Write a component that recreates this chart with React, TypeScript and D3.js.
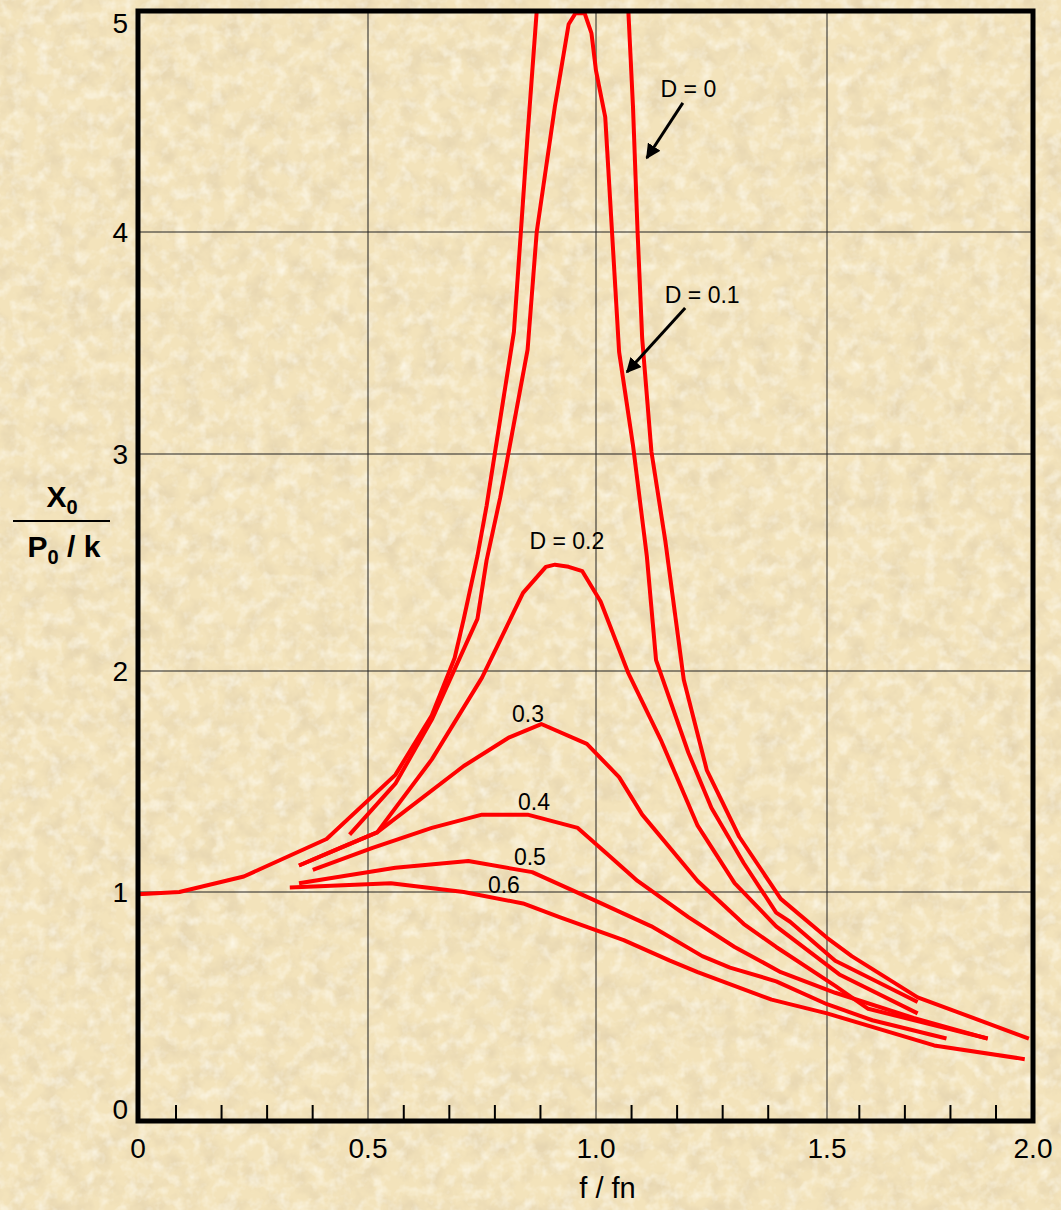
import React from "react";
import * as d3 from "d3";

// frequency ratio f/fn on x, amplitude ratio X0/(P0/k) on y
type Pt = [number, number | null];

const xTicks = [0, 0.5, 1.0, 1.5, 2.0];
const xTickLabels = ["0", "0.5", "1.0", "1.5", "2.0"];
const yTicks = [0, 1, 2, 3, 4, 5];
const minorTicks = [0.1, 0.2, 0.3, 0.4, 0.6, 0.7, 0.8, 0.9, 1.1, 1.2, 1.3, 1.4, 1.6, 1.7, 1.8, 1.9];

// D = 0 goes off the top (resonance), null marks the break
const curveD0: Pt[] = [
  [0, 0.99], [0.09, 1.0], [0.23, 1.07], [0.41, 1.24], [0.56, 1.53], [0.64, 1.8],
  [0.69, 2.06], [0.71, 2.24], [0.74, 2.53], [0.76, 2.76], [0.82, 3.55], [0.85, 4.44],
  [0.87, 5.0], [0.97, null], [1.07, 5.0], [1.08, 4.57], [1.09, 4.0], [1.1, 3.52],
  [1.12, 3.01], [1.15, 2.6], [1.19, 1.96], [1.24, 1.55], [1.31, 1.25], [1.4, 0.97],
  [1.5, 0.8], [1.56, 0.72], [1.72, 0.54], [1.99, 0.36],
];
const curveD01: Pt[] = [
  [0.46, 1.26], [0.56, 1.49], [0.64, 1.78], [0.74, 2.24], [0.76, 2.51], [0.79, 2.8],
  [0.85, 3.47], [0.87, 4.0], [0.91, 4.57], [0.94, 4.94], [0.955, 4.99], [0.975, 4.99],
  [0.99, 4.9], [1.0, 4.73], [1.02, 4.52], [1.05, 3.46], [1.08, 3.04], [1.11, 2.53],
  [1.13, 2.05], [1.2, 1.63], [1.25, 1.38], [1.32, 1.13], [1.39, 0.91], [1.42, 0.87],
  [1.52, 0.7], [1.72, 0.52],
];
const curveD02: Pt[] = [
  [0.35, 1.12], [0.44, 1.2], [0.52, 1.27], [0.64, 1.6], [0.75, 1.97], [0.84, 2.36],
  [0.89, 2.48], [0.91, 2.49], [0.94, 2.48], [0.97, 2.46], [1.01, 2.32], [1.07, 1.99],
  [1.14, 1.69], [1.22, 1.3], [1.3, 1.04], [1.39, 0.85], [1.53, 0.64], [1.72, 0.47],
];
const curveD03: Pt[] = [
  [0.35, 1.12], [0.44, 1.2], [0.52, 1.27], [0.71, 1.57], [0.81, 1.7], [0.88, 1.76],
  [0.98, 1.67], [1.05, 1.52], [1.1, 1.35], [1.22, 1.05], [1.32, 0.86], [1.39, 0.76],
  [1.52, 0.59], [1.6, 0.49], [1.89, 0.36],
];
const curveD04: Pt[] = [
  [0.38, 1.1], [0.51, 1.2], [0.64, 1.29], [0.75, 1.35], [0.85, 1.35], [0.96, 1.29],
  [1.02, 1.18], [1.09, 1.05], [1.2, 0.89], [1.3, 0.76], [1.4, 0.65], [1.52, 0.56],
  [1.71, 0.45], [1.89, 0.36],
];
const curveD05: Pt[] = [
  [0.35, 1.04], [0.56, 1.11], [0.72, 1.14], [0.86, 1.09], [0.99, 0.97], [1.12, 0.85],
  [1.23, 0.72], [1.29, 0.67], [1.39, 0.61], [1.5, 0.51], [1.61, 0.44], [1.79, 0.36],
];
const curveD06: Pt[] = [
  [0.33, 1.02], [0.55, 1.04], [0.71, 1.0], [0.84, 0.95], [0.92, 0.89], [1.06, 0.79],
  [1.16, 0.7], [1.22, 0.65], [1.38, 0.53], [1.5, 0.47], [1.76, 0.33], [1.98, 0.27],
];

const curves = [curveD0, curveD01, curveD02, curveD03, curveD04, curveD05, curveD06];

const curveLabels = [
  { text: "D = 0", x: 1.2, y: 4.61 },
  { text: "D = 0.1", x: 1.23, y: 3.68 },
  { text: "D = 0.2", x: 0.936, y: 2.56 },
  { text: "0.3", x: 0.851, y: 1.77 },
  { text: "0.4", x: 0.864, y: 1.37 },
  { text: "0.5", x: 0.855, y: 1.12 },
  { text: "0.6", x: 0.798, y: 0.996 },
];

const arrows = [
  { from: [1.188, 4.584], to: [1.11, 4.335] },
  { from: [1.193, 3.658], to: [1.067, 3.369] },
];

const W = 1061;
const H = 1210;
const FONT = "'Liberation Sans', Arial, sans-serif";

export default function App() {
  // hand-drawn original: grid spacing is a little uneven, so the scales are piecewise
  const x = d3.scaleLinear().domain([0, 0.5, 1, 1.5, 2]).range([138, 368, 596, 827, 1033]);
  const y = d3.scaleLinear().domain([0, 1, 2, 3, 4, 5]).range([1121, 892, 671, 454, 232, 11]);
  // the minor ticks on the original are evenly spaced on their own
  const xMinor = d3.scaleLinear().domain([0.1, 1.9]).range([176, 996]);

  const line = d3
    .line<Pt>()
    .defined((d) => d[1] !== null)
    .x((d) => x(d[0]))
    .y((d) => y(d[1] as number));

  const x0 = x(0);
  const x1 = x(2);
  const yb = y(0);
  const yt = y(5);

  return (
    <svg
      width={W}
      height={H}
      style={{ position: "absolute", left: 0, top: 0, display: "block" }}
      fontFamily={FONT}
    >
      <defs>
        <filter id="paper" x="0" y="0" width="100%" height="100%">
          <feTurbulence type="fractalNoise" baseFrequency="0.045" numOctaves={4} seed={7} />
          <feColorMatrix
            type="matrix"
            values="0 0 0 0 0.72  0 0 0 0 0.6  0 0 0 0 0.4  1.2 0 0 0 -0.5"
          />
        </filter>
        <filter id="paperLight" x="0" y="0" width="100%" height="100%">
          <feTurbulence type="fractalNoise" baseFrequency="0.08" numOctaves={3} seed={19} />
          <feColorMatrix
            type="matrix"
            values="0 0 0 0 1  0 0 0 0 0.98  0 0 0 0 0.9  0 1.4 0 0 -0.62"
          />
        </filter>
        <clipPath id="plot">
          <rect x={x0} y={yt} width={x1 - x0} height={yb - yt} />
        </clipPath>
        <marker
          id="arrowhead"
          viewBox="0 0 10 10"
          refX="9"
          refY="5"
          markerWidth="5"
          markerHeight="5"
          orient="auto"
        >
          <path d="M0,0 L10,5 L0,10 z" fill="#000" />
        </marker>
      </defs>

      <rect width={W} height={H} fill="#f3e3bb" />
      <rect width={W} height={H} filter="url(#paper)" />
      <rect width={W} height={H} filter="url(#paperLight)" />

      {/* grid */}
      <g stroke="#222" strokeWidth={1}>
        {xTicks.slice(1, -1).map((t) => (
          <line key={"gx" + t} x1={x(t)} x2={x(t)} y1={yt} y2={yb} />
        ))}
        {yTicks.slice(1, -1).map((t) => (
          <line key={"gy" + t} x1={x0} x2={x1} y1={y(t)} y2={y(t)} />
        ))}
      </g>

      {/* minor ticks on the x axis */}
      <g stroke="#000" strokeWidth={2}>
        {minorTicks.map((t) => (
          <line key={"mt" + t} x1={xMinor(t)} x2={xMinor(t)} y1={yb} y2={yb - 16} />
        ))}
      </g>

      {/* response curves */}
      <g clipPath="url(#plot)" fill="none" stroke="#ff0000" strokeWidth={4} strokeLinejoin="round">
        {curves.map((c, i) => (
          <path key={"c" + i} d={line(c) ?? ""} />
        ))}
      </g>

      {/* frame */}
      <rect
        x={x0}
        y={yt}
        width={x1 - x0}
        height={yb - yt}
        fill="none"
        stroke="#000"
        strokeWidth={5}
      />

      {/* tick labels */}
      <g fontSize={28} fill="#000">
        {xTicks.map((t, i) => (
          <text key={"xl" + t} x={x(t)} y={yb + 37} textAnchor="middle">
            {xTickLabels[i]}
          </text>
        ))}
        {yTicks.map((t) => (
          <text
            key={"yl" + t}
            x={128}
            y={Math.min(Math.max(y(t), yt + 12), yb - 12)}
            dy="0.36em"
            textAnchor="end"
          >
            {t}
          </text>
        ))}
      </g>

      {/* axis titles */}
      <text x={(x(1) + x(1.05)) / 2} y={1198} fontSize={29} textAnchor="middle">
        f / fn
      </text>
      <g fontWeight="bold" fontSize={30} fill="#000">
        <text x={62} y={507} textAnchor="middle">
          X<tspan fontSize={20} dy={7}>0</tspan>
        </text>
        <line x1={13} x2={110} y1={521} y2={521} stroke="#000" strokeWidth={2} />
        <text x={64} y={557} textAnchor="middle">
          P<tspan fontSize={20} dy={7}>0</tspan>
          <tspan dy={-7}> / k</tspan>
        </text>
      </g>

      {/* curve labels and arrows */}
      <g fontSize={23} fill="#000">
        {curveLabels.map((l) => (
          <text key={l.text} x={x(l.x)} y={y(l.y)} textAnchor="middle">
            {l.text}
          </text>
        ))}
      </g>
      {arrows.map((a, i) => (
        <line
          key={"ar" + i}
          x1={x(a.from[0])}
          y1={y(a.from[1])}
          x2={x(a.to[0])}
          y2={y(a.to[1])}
          stroke="#000"
          strokeWidth={3}
          markerEnd="url(#arrowhead)"
        />
      ))}
    </svg>
  );
}
